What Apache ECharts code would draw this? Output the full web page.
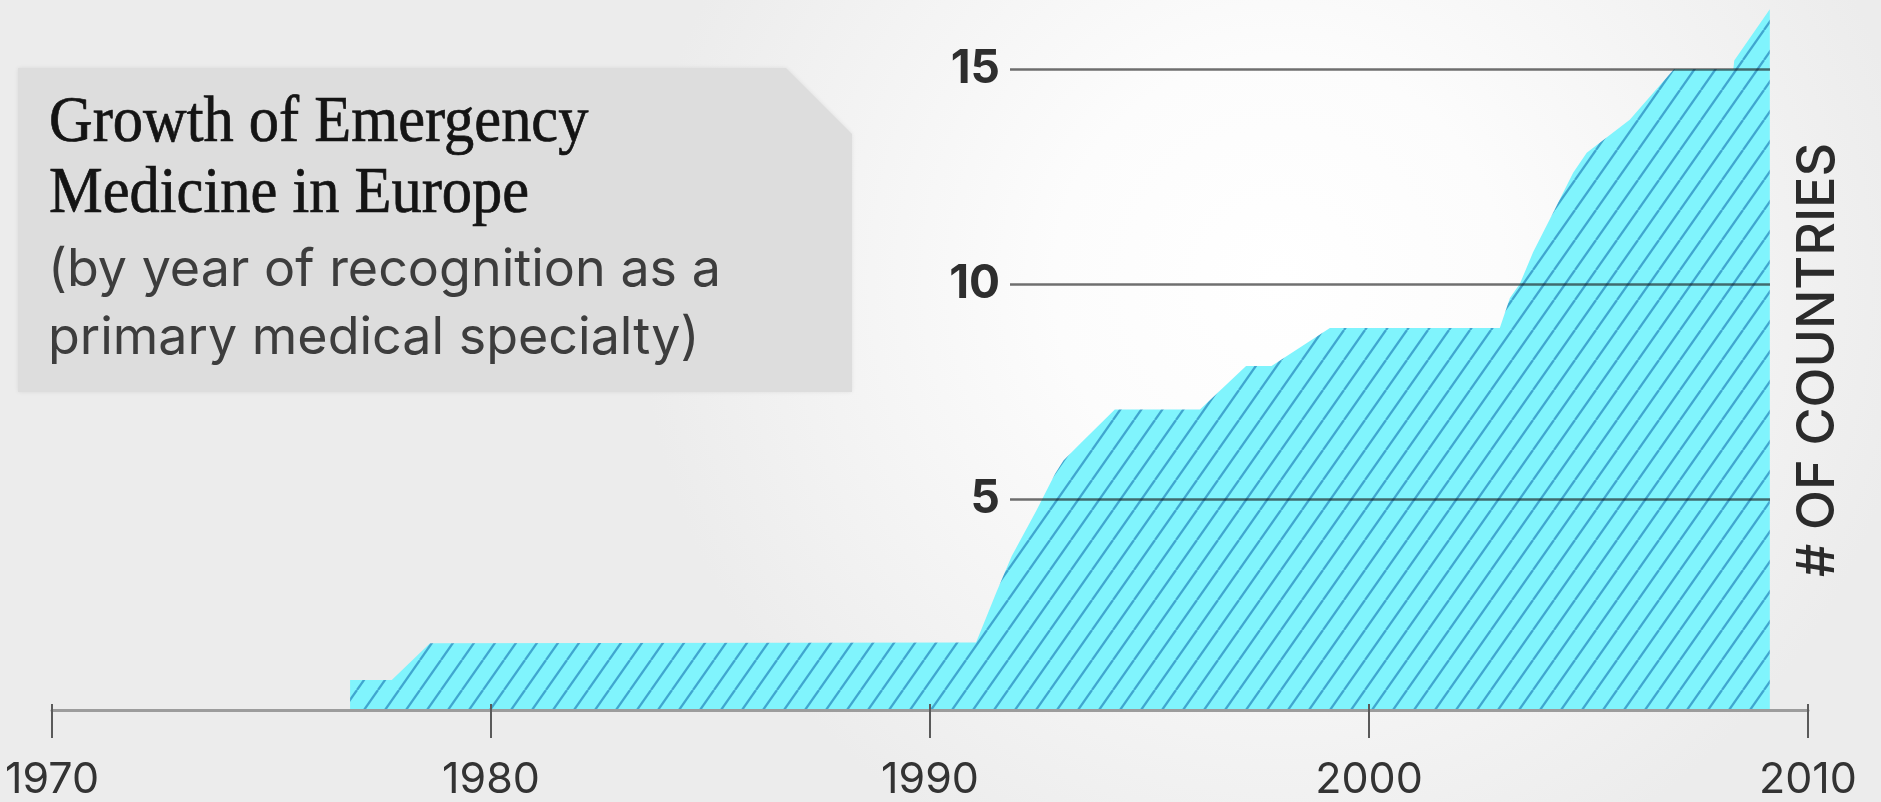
<!DOCTYPE html>
<html>
<head>
<meta charset="utf-8">
<script src="https://cdn.jsdelivr.net/npm/echarts@6/dist/echarts.min.js"></script>
<style>
html,body{margin:0;padding:0;width:1881px;height:802px;overflow:hidden;}
#chart{width:1881px;height:802px;}
</style>
</head>
<body>
<div id="chart"></div>
<script>
// ---- data ----
const years = [1976.79, 1976.79, 1977.74, 1978.61, 1991.05, 1991.51, 1991.86, 1992.43, 1992.85, 1993.04, 1993.42, 1994.21, 1996.15, 1997.2, 1997.78, 1999.11, 2002.98, 2003.21, 2003.44, 2003.74, 2004.2, 2004.65, 2004.96, 2005.94, 2006.95, 2008.3, 2008.32, 2009.13, 2009.13];
const countries = [0, 0.70, 0.70, 1.56, 1.58, 2.75, 3.60, 4.68, 5.53, 5.84, 6.23, 7.03, 7.03, 8.05, 8.05, 8.94, 8.94, 9.64, 9.98, 10.72, 11.65, 12.57, 13.04, 13.81, 15.0, 15.0, 15.2, 16.4, 0];
const xTicks = [1970, 1980, 1990, 2000, 2010];
const yTicks = [0, 5, 10, 15];
const titleLines = ['Growth of Emergency', 'Medicine in Europe'];
const subtitleLines = ['(by year of recognition as a', 'primary medical specialty)'];
const axisName = '# OF COUNTRIES';

// ---- hatch pattern ----
function makeHatch() {
  const w = 21, h = 30;
  const c = document.createElement('canvas');
  c.width = w; c.height = h;
  const ctx = c.getContext('2d');
  ctx.fillStyle = '#80f4fd';
  ctx.fillRect(0, 0, w, h);
  ctx.strokeStyle = '#40a6cf';
  ctx.lineWidth = 2.3;
  for (let k = -1; k <= 1; k++) {
    ctx.beginPath();
    ctx.moveTo(k * w, h);
    ctx.lineTo(k * w + w, 0);
    ctx.stroke();
  }
  return c;
}

const seriesData = years.map((y, i) => [y, countries[i]]);
const chart = echarts.init(document.getElementById('chart'), null, {renderer: 'canvas'});

const FONT = 'Inter, "Open Sans", sans-serif';

chart.setOption({
  animation: false,
  backgroundColor: {
    type: 'radial', x: 0.68, y: 0.35, r: 0.8,
    colorStops: [{offset: 0, color: '#ffffff'}, {offset: 0.35, color: '#fcfcfc'}, {offset: 1, color: '#ececec'}]
  },
  grid: [
    {left: 52, right: 73, top: 69, bottom: 87},
    {left: 1010, right: 111, top: 69, bottom: 87}
  ],
  xAxis: [
    {
      type: 'value', gridIndex: 0, min: xTicks[0], max: xTicks[xTicks.length - 1], interval: 10,
      z: 6,
      axisLine: {show: true, lineStyle: {color: '#9c9c9c', width: 3}},
      axisTick: {show: true, length: 28, lineStyle: {color: '#5a5a5a', width: 2}},
      axisLabel: {margin: 49, fontSize: 43, color: '#333333', fontFamily: FONT, fontWeight: 400,
        formatter: v => String(v)},
      splitLine: {show: false}
    },
    {
      type: 'value', gridIndex: 0, position: 'bottom', min: xTicks[0], max: xTicks[xTicks.length - 1], interval: 10,
      z: 6,
      axisLine: {show: false},
      axisTick: {show: true, inside: true, length: 6, lineStyle: {color: '#5a5a5a', width: 2}},
      axisLabel: {show: false},
      splitLine: {show: false}
    },
    {type: 'value', gridIndex: 1, min: 1970, max: 2010, show: false}
  ],
  yAxis: [
    {type: 'value', gridIndex: 0, min: yTicks[0], max: yTicks[yTicks.length - 1], show: false},
    {
      type: 'value', gridIndex: 1, min: yTicks[0], max: yTicks[yTicks.length - 1], interval: 5,
      z: 5,
      axisLine: {show: false},
      axisTick: {show: false},
      axisLabel: {showMinLabel: false, margin: 10, fontSize: 46, fontWeight: 700, color: '#2e2e2e', fontFamily: FONT,
        formatter: v => String(v)},
      splitLine: {show: true, showMinLine: false, lineStyle: {color: 'rgba(25,25,25,0.62)', width: 2.5}}
    }
  ],
  series: [{
    type: 'line',
    xAxisIndex: 0, yAxisIndex: 0,
    data: seriesData,
    symbol: 'none',
    clip: false,
    z: 2,
    lineStyle: {width: 0},
    areaStyle: {color: {image: makeHatch(), repeat: 'repeat'}, opacity: 1}
  }],
  graphic: [
    {
      type: 'polygon', z: 0,
      shape: {points: [[18, 68], [786, 68], [852, 134], [852, 392], [18, 392]]},
      style: {fill: '#dddddd', shadowBlur: 4, shadowColor: 'rgba(0,0,0,0.08)'}
    },
    {
      type: 'text', x: 49, y: 124, scaleX: 0.93, z: 1,
      style: {text: titleLines[0], font: '400 65px "Liberation Serif", serif', fill: '#141414',
        stroke: '#141414', lineWidth: 0.7, verticalAlign: 'middle', align: 'left'}
    },
    {
      type: 'text', x: 49, y: 195, scaleX: 0.93, z: 1,
      style: {text: titleLines[1], font: '400 65px "Liberation Serif", serif', fill: '#141414',
        stroke: '#141414', lineWidth: 0.7, verticalAlign: 'middle', align: 'left'}
    },
    {
      type: 'text', x: 48, y: 270, z: 1,
      style: {text: subtitleLines[0], font: '400 52px ' + FONT, fill: '#3d3d3d', verticalAlign: 'middle', align: 'left'}
    },
    {
      type: 'text', x: 48, y: 338, z: 1,
      style: {text: subtitleLines[1], font: '400 52px ' + FONT, fill: '#3d3d3d', verticalAlign: 'middle', align: 'left'}
    },
    {
      type: 'text', x: 1818, y: 360, rotation: Math.PI / 2, z: 1,
      style: {text: axisName, font: '500 52px ' + FONT, fill: '#2b2b2b', verticalAlign: 'middle', align: 'center'}
    }
  ]
});
</script>
</body>
</html>
